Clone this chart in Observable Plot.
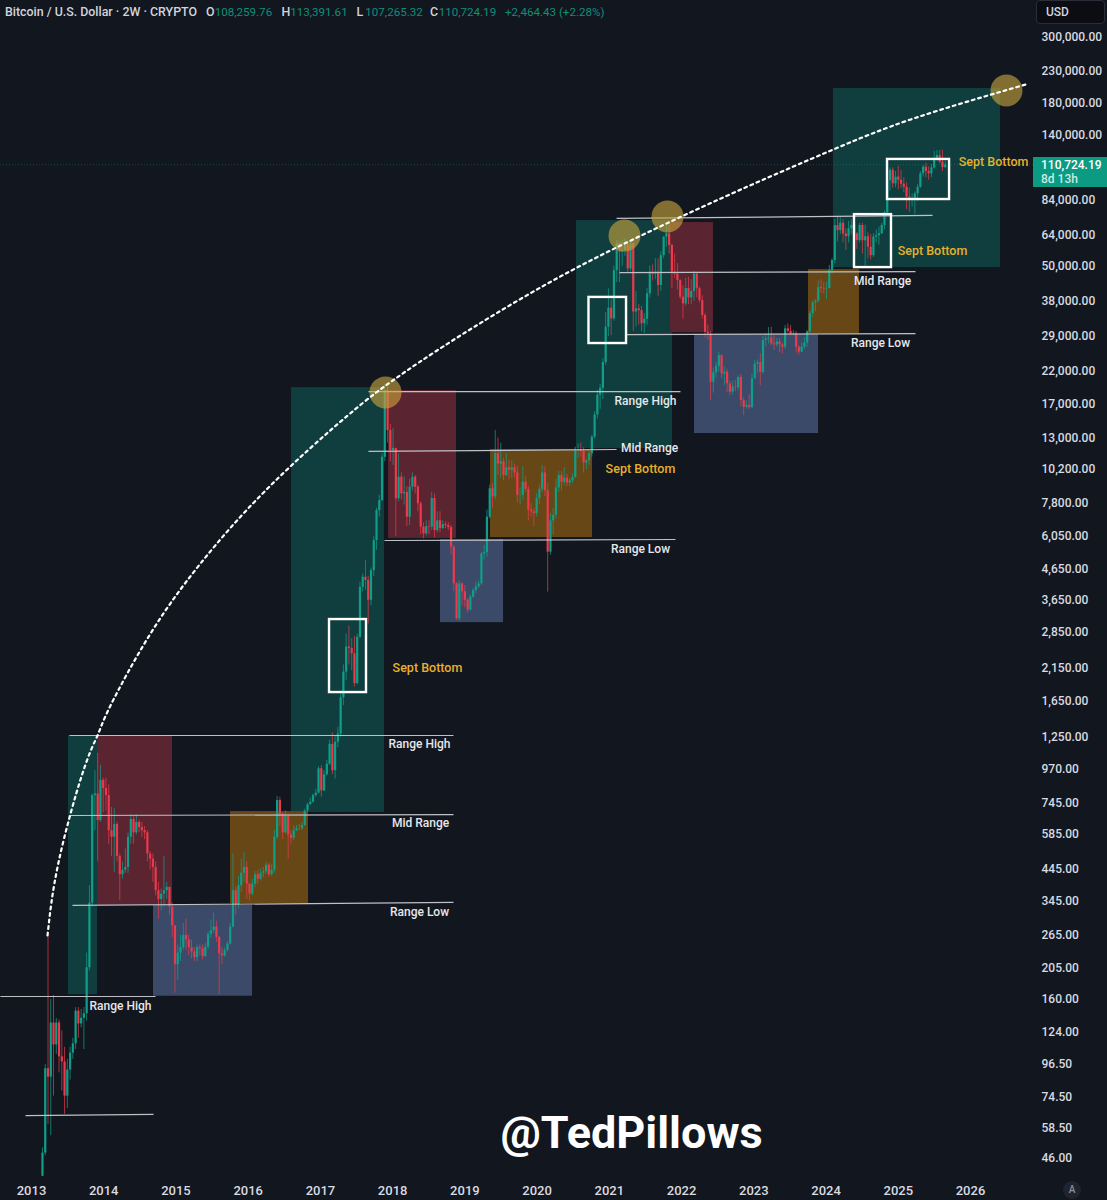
<!DOCTYPE html>
<html>
<head>
<meta charset="utf-8">
<script src="https://cdn.jsdelivr.net/npm/d3@7"></script>
<script src="https://cdn.jsdelivr.net/npm/@observablehq/plot@0.6"></script>
<style>
html,body{margin:0;padding:0;background:#12161f;}
#chart{position:relative;width:1107px;height:1200px;overflow:hidden;font-family:Roboto,sans-serif;}
#chart svg{display:block;}
.hdr{position:absolute;top:4px;font-size:12.4px;font-weight:500;color:#d1d4dc;white-space:pre;}
.hdr.v{font-size:11.6px;font-weight:400;color:#0e8f7a;top:4.5px;}
.usd{position:absolute;left:1036px;top:0;width:69px;height:24px;box-sizing:border-box;background:#0b0d12;border:1px solid #2a2e39;border-radius:4px;color:#d1d4dc;font-size:12px;font-weight:500;line-height:23px;padding-left:9px;}
.last{position:absolute;left:1033px;top:157px;width:74px;height:30px;background:#0b9a82;color:#fff;font-size:12px;font-weight:500;line-height:14px;padding:1px 0 0 8px;box-sizing:border-box;}
.last span{color:#c9e9e2;}
.auto{position:absolute;left:1063px;top:1181px;width:18px;height:18px;border-radius:50%;background:#20242e;color:#8b8f9a;font-size:10px;font-weight:500;line-height:18px;text-align:center;}
</style>
</head>
<body>
<div id="chart"></div>
<script>
// [close, high, low] for each two-week candle; the open is the previous close.
const firstOpen = 40;
const firstYear = 2013.152;
const candleStep = 0.03822;
const s2013 = [[48,50,40],[93,96,47],[87,266,60],[133,160,55],[112,165,75],[133,138,104],[102,136,90],[98,125,78],[75,110,65],[92,100,68],[105,110,85],[113,118,100],[146,150,108],[132,150,118],[138,148,128],[143,150,108],[205,230,135],[340,390,200],[790,800,330],[800,960,600],[650,1100,470],[890,1000,640],[835,905,690]];
const s2014 = [[790,905,700],[600,860,540],[570,720,490],[630,715,433],[490,640,470],[425,500,347],[440,470,410],[450,520,430],[570,590,430],[655,680,540],[590,670,540],[640,680,580],[615,650,590],[600,640,570],[590,620,560],[500,600,470],[480,510,440],[450,500,400],[375,470,360],[350,400,300],[365,380,320],[375,490,330],[385,400,350],[330,385,310],[285,340,260],[210,285,168]];
const s2015 = [[230,245,185],[240,265,215],[264,290,235],[255,300,235],[240,265,225],[232,255,220],[222,240,215],[240,245,215],[238,245,225],[224,245,218],[241,248,222],[266,272,236],[274,298,258],[282,315,268],[260,295,250],[229,262,166],[225,240,210],[235,240,222],[247,252,232],[282,290,245],[375,500,280],[335,385,310],[390,420,325],[430,480,370],[450,505,400],[395,470,350]];
const s2016 = [[365,395,345],[395,410,360],[425,435,385],[410,440,395],[430,445,405],[435,450,415],[458,470,425],[425,465,415],[440,460,420],[570,600,430],[760,785,560],[680,780,620],[590,690,560],[670,700,585],[580,680,480],[565,600,540],[600,625,555],[610,625,595],[610,630,600],[625,640,600],[700,710,620],[735,745,690],[750,775,735],[790,800,745],[805,830,780],[975,990,800]];
const s2017 = [[820,1000,780],[930,960,815],[1010,1040,920],[1180,1220,1000],[960,1290,930],[1200,1260,900],[1280,1350,1150],[1700,1750,1250],[2080,2200,1600],[2530,2800,1950],[2500,2980,2200],[2400,2700,2100],[1900,2750,1850],[2730,2800,1880],[4040,4200,2700],[4370,4480,3900],[4260,4980,3950],[3650,4400,3030],[4600,4700,3500],[5830,6000,4400],[7370,7500,5400],[7970,8300,7000],[11190,11500,7900],[18870,19800,10800],[13800,19700,12500],[11800,14500,10800]];
const s2018 = [[12000,14000,10500],[8080,11800,6000],[9570,11500,7900],[8400,9900,8000],[8500,9600,7700],[7000,8900,6500],[8850,9400,6550],[9570,9900,8600],[8850,9700,8400],[7770,9000,7300],[6470,7900,6100],[6140,6700,5900],[6500,6800,6050],[6470,6800,6100],[8100,8500,6300],[6300,8400,5950],[6800,7300,6200],[6400,7300,6200],[6600,6800,6350],[6550,6750,6400],[6450,6700,6300],[5530,6550,5200],[4150,5600,3900],[3155,4200,3120],[4150,4250,3100],[3900,4200,3500]];
const s2019 = [[3650,4100,3450],[3380,3700,3300],[3740,3800,3350],[3940,4000,3700],[4050,4200,3850],[4150,4250,4000],[5250,5300,4100],[5300,5600,5000],[7000,7400,5100],[8740,9000,6900],[8200,9100,7500],[11500,13800,8000],[10600,13000,9700],[10800,12500,9500],[9700,11100,9300],[10300,11500,9600],[10100,10900,9400],[10300,10900,9500],[9900,10600,9500],[8300,10400,7800],[8300,8800,7700],[9200,10400,8000],[8700,9600,8500],[7400,8900,6800],[7300,7800,7000],[7200,7500,6500]];
const s2020 = [[8100,8400,7000],[8700,9000,7700],[9900,10500,8500],[8600,10400,8200],[5320,9100,3890],[6800,7200,5200],[7100,7500,6100],[8800,9400,6900],[9700,10000,8500],[9200,10000,8600],[9500,10300,9000],[9150,9800,8900],[9300,9450,8900],[9550,9800,9100],[11800,12100,9500],[11800,12400,11100],[11700,12500,11200],[10700,12050,9900],[10900,11000,10150],[11500,11700,10500],[13100,13300,11200],[15600,16000,12900],[18200,18900,15100],[19200,19800,16300],[23500,24200,17600],[31000,34800,23000],[36000,41900,28800]];
const s2021 = [[33100,38500,29000],[48300,50000,32500],[59600,61000,44000],[55770,60500,44000],[56600,61500,50000],[59000,62000,54000],[48900,60000,47500],[59600,61500,48000],[34900,60000,30000],[35800,41000,31000],[35300,37000,31500],[31850,36500,29900],[33000,34500,29500],[40300,42000,31500],[47700,50000,39000],[47000,50500,44500],[47700,53000,45000],[43000,53000,39500],[54300,56000,41000],[62800,63000,53000],[64450,69000,58000],[58800,69000,55000],[47700,59500,42000],[47000,55000,45500],[44700,51000,41500],[39200,45000,38500]];
const s2022 = [[37200,43000,33000],[42000,45500,36500],[39000,45800,37000],[41000,45000,37000],[47000,48000,38000],[41900,47500,39000],[38200,42500,37500],[34000,39700,33000],[29800,34500,28500],[29400,31500,28000],[20150,30000,17450],[21700,22500,18500],[22800,23500,20800],[24800,25400,21800],[21500,25000,20700],[21800,22700,19600],[19900,22300,18600],[18620,20300,18100],[19400,20300,18200],[19300,20400,18700],[20900,21200,18900],[17450,21400,16600],[16550,17900,15500],[16800,17400,16300],[16500,18300,16300],[20700,21500,16400]];
const s2023 = [[23230,23900,20600],[23500,24000,21500],[21760,25200,19600],[27930,28800,21400],[28300,29100,26600],[28500,30900,27200],[27200,31000,26800],[27000,28900,25800],[27600,28400,26500],[27000,28400,25400],[26500,27400,25100],[30600,31400,26000],[30000,31800,29500],[29300,31400,29000],[29400,30200,28900],[26500,30000,25300],[25500,26800,24900],[26500,27400,25400],[27400,28500,26000],[29900,30200,26500],[34500,35200,29600],[37500,38000,33500],[38000,38500,35000],[42300,44500,37500],[42000,45000,40500],[41800,44000,40200]];
const s2024 = [[42000,44000,38500],[48300,50300,41800],[52300,53000,47000],[68700,72000,51000],[66100,73500,60500],[70000,73000,64000],[64400,72000,60000],[63000,67000,56500],[67000,71000,60000],[68800,72000,64000],[64400,69000,60000],[61100,65000,57000],[68770,70000,60000],[61000,70000,55000],[63000,69000,49500],[58000,65000,53000],[54300,64000,52500],[62800,64500,53500],[63500,66500,60000],[64500,68000,58900],[68800,70000,64000],[76000,77000,66500],[97800,99000,75000],[106000,108000,90000],[95360,108000,92000],[100460,105000,92500]];
const s2025 = [[98000,109500,91000],[95000,106000,92000],[92800,100000,89000],[85900,96000,78000],[83700,92000,76300],[84500,88000,79500],[88100,89500,75000],[92800,95000,83000],[103100,105000,92000],[108600,110000,100500],[105000,112000,100000],[103100,109000,98000],[108000,111000,100000],[115900,123000,107000],[119000,123700,114000],[113000,124000,111500],[108259.76,124000,105000],[110724.19,113391.61,107265.32]];

// zones: [start year, end year, low price, high price]
const greenZones = [[2013.512,2013.914,166,1265],[2016.6,2017.887,692,19300],[2020.545,2021.874,11990,71500],[2024.103,2026.415,49460,201100]];
const redZones = [[2013.914,2014.952,334,1265],[2017.943,2018.884,5922,18870],[2021.847,2022.442,29700,70400]];
const blueZones = [[2014.689,2016.06,164,334],[2018.662,2019.535,3063,5875],[2022.179,2023.896,13480,29260]];
const orangeZones = [[2015.755,2016.835,339,697],[2019.355,2020.767,5966,11890],[2023.757,2024.463,29480,48680]];
// white September boxes: same layout as the zones
const septBoxes = [[2017.126,2017.638,1771,3138],[2020.718,2021.238,27280,39150],[2024.394,2024.906,49460,74900],[2024.851,2025.71,84300,115400]];
// level lines: [year 1, price 1, year 2, price 2]
const levels = [[2012.917,64.4,2014.689,65],[2012.57,163.7,2014.717,163.7],[2013.568,334,2018.842,342],[2013.54,676,2018.842,681],[2013.526,1265,2018.842,1265],[2017.666,18720,2021.985,18720],[2017.666,11710,2021.1,11890],[2017.887,5830,2021.916,5875],[2021.237,29260,2025.239,29480],[2021.141,47560,2025.239,47930],[2021.1,72670,2025.474,74400]];
const arcYears = [2013.222,2013.374,2013.706,2013.914,2014.094,2014.648,2015.34,2016.267,2017.375,2018.039,2018.829,2020.144,2021.528,2022.913,2024.103,2025.211,2026.762];
const arcPrices = [264,468,940,1265,1600,2812,4868,8757,15500,20730,27930,43640,65100,93300,124800,159000,207500];
const targetYears = [2017.901,2021.21,2021.805,2026.498];
const targetPrices = [18600,63600,73800,198000];
const whiteLabels = [["Range High",2014.232,151.4],["Range High",2018.372,1179],["Mid Range",2018.386,635],["Range Low",2018.372,316],["Range High",2021.501,17310],["Mid Range",2021.556,11990],["Range Low",2021.431,5430],["Mid Range",2024.782,44340],["Range Low",2024.754,27280]];
const goldLabels = [["Sept Bottom",2018.482,2155],["Sept Bottom",2021.431,10245],["Sept Bottom",2025.474,56120],["Sept Bottom",2026.319,113500]];
const priceTicks = [300000,230000,180000,140000,84000,64000,50000,38000,29000,22000,17000,13000,10200,7800,6050,4650,3650,2850,2150,1650,1250,970,745,585,445,345,265,205,160,124,96.5,74.5,58.5,46];
const yearTicks = [2013,2014,2015,2016,2017,2018,2019,2020,2021,2022,2023,2024,2025,2026];
const lastClose = 110724.19;
const headerTitle = "Bitcoin / U.S. Dollar · 2W · CRYPTO";
const headerLetters = ["O","H","L","C"];
const headerValues = ["108,259.76","113,391.61","107,265.32","110,724.19"];
const headerChange = "+2,464.43 (+2.28%)";

const rows = [].concat(s2013,s2014,s2015,s2016,s2017,s2018,s2019,s2020,s2021,s2022,s2023,s2024,s2025);
const candles = rows.map((r,i)=>{
  const open = i===0 ? firstOpen : rows[i-1][0];
  return {t:firstYear+i*candleStep, open, close:r[0], high:r[1], low:r[2], up:r[0]>=open};
});
const arc = arcYears.map((x,i)=>({x,y:arcPrices[i]}));
const targets = targetYears.map((x,i)=>({x,y:targetPrices[i]}));
const zone = (data,fill)=>Plot.rect(data,{x1:d=>d[0],x2:d=>d[1],y1:d=>d[2],y2:d=>d[3],fill,inset:0});
const upCol = "#0f9f88", downCol = "#ea3a4c";

const plot = Plot.plot({
  width:1107,height:1200,marginLeft:0,marginRight:74,marginTop:0,marginBottom:24,
  style:{background:"#12161f",fontFamily:"Roboto, sans-serif"},
  x:{type:"linear",domain:[2013,2026],range:[31,970],axis:null},
  y:{type:"log",domain:[46,300000],range:[1158,37],axis:null},
  marks:[
    zone(blueZones,"#3b4a68"),
    zone(greenZones,"#103e3e"),
    zone(redZones,"#5a2431"),
    zone(orangeZones,"#674716"),
    Plot.ruleY([lastClose],{stroke:"#12a58a",strokeOpacity:0.45,strokeDasharray:"1,2",strokeWidth:0.8}),
    Plot.ruleX(candles,{x:"t",y1:"low",y2:"high",stroke:d=>d.up?upCol:downCol,strokeWidth:1,strokeOpacity:0.72}),
    Plot.ruleX(candles,{x:"t",y1:"open",y2:"close",stroke:d=>d.up?upCol:downCol,strokeWidth:2.2}),
    Plot.link(levels,{x1:d=>d[0],y1:d=>d[1],x2:d=>d[2],y2:d=>d[3],stroke:"#bfc1c6",strokeWidth:1.2}),
    Plot.rect(septBoxes,{x1:d=>d[0],x2:d=>d[1],y1:d=>d[2],y2:d=>d[3],fill:"none",stroke:"#ffffff",strokeWidth:2.4}),
    Plot.dot(targets,{x:"x",y:"y",r:16,fill:"#c9a53e",fillOpacity:0.62,stroke:"none"}),
    Plot.line(arc,{x:"x",y:"y",curve:"natural",stroke:"#ffffff",strokeWidth:2.2,strokeDasharray:"2.8,3.8"}),
    Plot.text(whiteLabels,{x:d=>d[1],y:d=>d[2],text:d=>d[0],fill:"#e6e7ea",fontSize:12,fontWeight:500}),
    Plot.text(goldLabels,{x:d=>d[1],y:d=>d[2],text:d=>d[0],fill:"#e6b12c",fontSize:12.5,fontWeight:500}),
    Plot.text(["@TedPillows"],{x:[2021.307],y:[55.9],fill:"#ffffff",fontSize:45,fontWeight:700,fontFamily:"Roboto, sans-serif"}),
    Plot.axisY(priceTicks,{anchor:"right",label:null,tickSize:0,tickPadding:8,tickFormat:d3.format(",.2f"),fontSize:12,fontWeight:500,fill:"#d9dbe0"}),
    Plot.axisX(yearTicks,{anchor:"bottom",label:null,tickSize:0,tickPadding:9,tickFormat:d3.format("d"),fontSize:13,fontWeight:500,fill:"#d9dbe0"})
  ]
});
const root = document.getElementById("chart");
root.appendChild(plot);
function addHeader(text,left,cls){
  const el = document.createElement("div");
  el.className = cls;
  el.style.left = left+"px";
  el.textContent = text;
  root.appendChild(el);
}
addHeader(headerTitle,5,"hdr");
[206,281.5,356.6,430].forEach((left,i)=>{
  addHeader(headerLetters[i],left,"hdr");
  addHeader(headerValues[i],left+8.7,"hdr v");
});
addHeader(headerChange,505,"hdr v");
const usd = document.createElement("div"); usd.className="usd"; usd.textContent="USD"; root.appendChild(usd);
const last = document.createElement("div"); last.className="last"; last.innerHTML="110,724.19<br><span>8d 13h</span>"; root.appendChild(last);
const auto = document.createElement("div"); auto.className="auto"; auto.textContent="A"; root.appendChild(auto);
</script>
</body>
</html>
